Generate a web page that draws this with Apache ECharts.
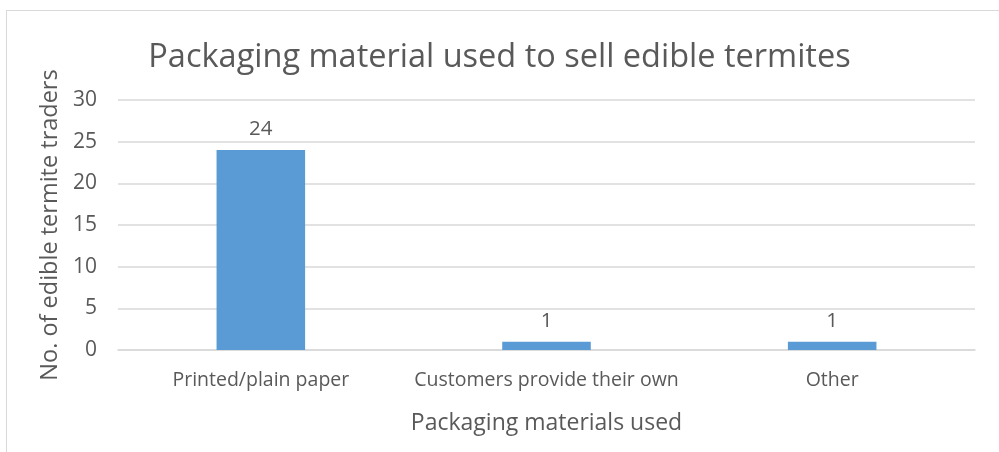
<!DOCTYPE html>
<html>
<head>
<meta charset="utf-8">
<script src="https://cdn.jsdelivr.net/npm/echarts@6/dist/echarts.min.js"></script>
<style>
  html, body { margin: 0; padding: 0; background: #fff; }
  #frame { position: absolute; left: 6px; top: 10px; width: 1000px; height: 450px; border: 1px solid #d9d9d9; box-sizing: border-box; }
  #chart { width: 999px; height: 452px; }
</style>
</head>
<body>
<div id="frame"></div>
<div id="chart"></div>
<script>
const categories = ['Printed/plain paper', 'Customers provide their own', 'Other']
const traders = [24, 1, 1]
const yTicks = { min: 0, max: 30, interval: 5 }

const textColor = '#595959'
const font = 'Open Sans'

const chart = echarts.init(document.getElementById('chart'))
chart.setOption({
  animation: false,
  title: {
    text: 'Packaging material used to sell edible termites',
    left: 'center',
    top: 36,
    textStyle: { fontFamily: font, fontSize: 32.5, fontWeight: 'normal', color: textColor },
  },
  grid: { left: 118, right: 24, top: 100, bottom: 102 },
  xAxis: {
    type: 'category',
    data: categories,
    name: 'Packaging materials used',
    nameLocation: 'middle',
    nameGap: 62,
    nameTextStyle: { fontFamily: font, fontSize: 23, color: textColor },
    axisTick: { show: false },
    axisLine: { lineStyle: { color: '#d9d9d9', width: 1.5 } },
    axisLabel: { interval: 0, hideOverlap: false, fontFamily: font, fontSize: 19.5, color: textColor, margin: 20 },
  },
  yAxis: {
    type: 'value',
    min: yTicks.min,
    max: yTicks.max,
    interval: yTicks.interval,
    name: 'No. of edible termite traders',
    nameLocation: 'middle',
    nameGap: 52,
    nameTextStyle: { fontFamily: font, fontSize: 23.5, color: textColor },
    axisLine: { show: false },
    axisTick: { show: false },
    splitLine: { lineStyle: { color: '#d9d9d9', width: 1.5 } },
    axisLabel: { fontFamily: font, fontSize: 21, color: textColor, margin: 21 },
  },
  series: [
    {
      type: 'bar',
      data: traders,
      barWidth: '31%',
      itemStyle: { color: '#5b9bd5' },
      label: {
        show: true,
        position: 'top',
        distance: 10,
        fontFamily: font,
        fontSize: 20.5,
        color: textColor,
      },
    },
  ],
})
</script>
</body>
</html>
